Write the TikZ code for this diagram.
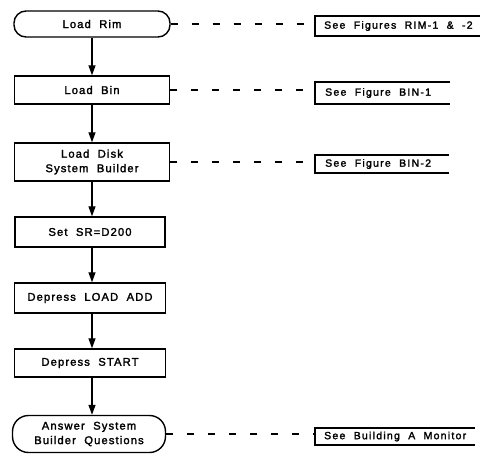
\documentclass[tikz,border=0pt]{standalone}
\usepackage{fontspec}
\setmainfont{Liberation Sans}[LetterSpace=10, WordSpace=2, FakeBold=2]
\newfontfamily\annofont{Liberation Sans}[LetterSpace=12, WordSpace=2, FakeBold=2]
\usetikzlibrary{arrows.meta}
\begin{document}
\begin{tikzpicture}[x=1pt,y=-1pt,
  every node/.style={font=\fontsize{11.2}{14.5}\selectfont},
  procbox/.style={draw, line width=1.4pt, inner sep=0pt, align=center},
  termbox/.style={procbox, rounded corners=12pt},
  flow/.style={line width=1.2pt, -{Triangle[width=7pt,length=10pt]}},
  annoline/.style={line width=1.4pt},
  dashline/.style={line width=1.2pt, dash pattern=on 7pt off 14pt},
  annotext/.style={anchor=west, inner sep=0pt, font=\annofont\fontsize{10.5}{14}\selectfont}]
\useasboundingbox (0,0) rectangle (480,456);
% flow nodes
\node[termbox, minimum width=156pt, minimum height=26pt] (rim) at (92,24) {Load Rim};
\node[procbox, minimum width=155pt, minimum height=28pt] (bin) at (92,90) {Load Bin};
\node[procbox, minimum width=155pt, minimum height=38pt] (disk) at (92,162) {Load Disk\\System Builder};
\node[procbox, minimum width=150pt, minimum height=30pt] (sr) at (90,232) {Set SR=D200};
\node[procbox, minimum width=151pt, minimum height=30pt] (ldadd) at (90,298) {Depress LOAD ADD};
\node[procbox, minimum width=151pt, minimum height=28pt] (start) at (90,363) {Depress START};
\node[termbox, rounded corners=16pt, minimum width=153pt, minimum height=37pt] (ans) at (89,434) {Answer System\\Builder Questions};
% flow connectors
\draw[flow] (rim.south) -- (bin.north);
\draw[flow] (bin.south) -- (disk.north);
\draw[flow] (disk.south) -- (disk.south |- sr.north);
\draw[flow] (disk.south |- sr.south) -- (disk.south |- ldadd.north);
\draw[flow] (disk.south |- ldadd.south) -- (disk.south |- start.north);
\draw[flow] (disk.south |- start.south) -- (disk.south |- ans.north);
% annotations
\coordinate (b1) at (315,25);
\coordinate (b2) at (315,92);
\coordinate (b3) at (315,163);
\coordinate (b4) at (315,434);
\draw[annoline] (484,16) -- (315,16) -- (315,36) -- (484,36);
\draw[annoline] (450,82) -- (315,82) -- (315,104) -- (450,104);
\draw[annoline] (449,155) -- (315,155) -- (315,173) -- (449,173);
\draw[annoline] (475,428) -- (315,428) -- (315,445) -- (475,445);
\node[annotext] (t1) at (324,26) {See Figures RIM-1 \& -2};
\node[annotext] (t2) at (325,93) {See Figure BIN-1};
\node[annotext] (t3) at (325,164) {See Figure BIN-2};
\node[annotext] (t4) at (324,436.5) {See Building A Monitor};
% dashed connectors
\draw[dashline] (rim.east) -- (rim.east -| b1);
\draw[dashline] (bin.east) -- (bin.east -| b2);
\draw[dashline] (disk.east) -- (disk.east -| b3);
\draw[dashline] (ans.east) -- (ans.east -| b4);
\end{tikzpicture}
\end{document}
